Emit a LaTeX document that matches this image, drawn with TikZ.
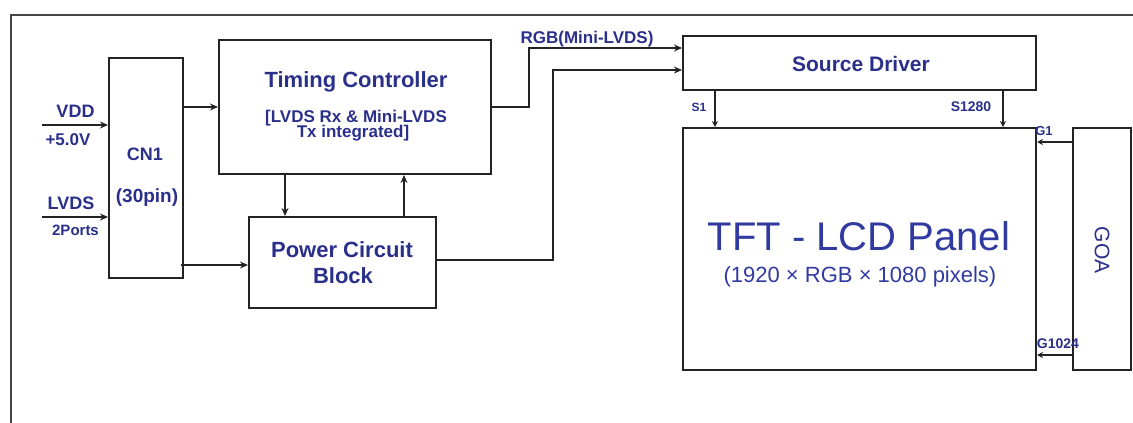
\documentclass[tikz,border=0pt]{standalone}
\usepackage{fontspec}
\setmainfont{Liberation Sans}
\usetikzlibrary{arrows.meta}
\definecolor{navy}{RGB}{42,48,138}
\definecolor{tftblue}{RGB}{48,58,160}
\definecolor{framegray}{RGB}{70,70,70}
\definecolor{ink}{RGB}{35,35,35}
\begin{document}
\begin{tikzpicture}[x=1pt,y=-1pt,
  box/.style={draw=ink,line width=2pt,inner sep=0pt,fill=none},
  lbl/.style={inner sep=0pt,anchor=base,text=navy,font=\bfseries\fontsize{#1}{#1}\selectfont},
  rlbl/.style={inner sep=0pt,anchor=base,text=tftblue,font=\fontsize{#1}{#1}\selectfont},
  arr/.style={draw=ink,line width=2pt,-{Stealth[length=8pt,width=7pt]}},
  sarr/.style={draw=ink,line width=1.6pt,-{Stealth[length=6pt,width=6pt]}},
]
\useasboundingbox (0,0) rectangle (1133,423);
\draw[framegray,line width=2pt] (11,423) -- (11,15) -- (1133,15);

% boxes
\node[box,minimum width=74pt,minimum height=220pt] (cn1) at (146,168) {};
\node[box,minimum width=272pt,minimum height=134pt] (tc) at (355,107) {};
\node[box,minimum width=187pt,minimum height=91pt] (pcb) at (342.5,262.5) {};
\node[box,minimum width=353pt,minimum height=54pt] (sd) at (859.5,63) {};
\node[box,minimum width=353pt,minimum height=242pt] (panel) at (859.5,249) {};
\node[box,minimum width=58pt,minimum height=242pt] (goa) at (1102,249) {};

% texts
\node[lbl=18] (tvdd) at (75.5,117) {VDD};
\node[lbl=17] (tv5) at (68,145) {+5.0V};
\node[lbl=18] (tlvds) at (71,209) {LVDS};
\node[lbl=15] (tports) at (75.5,235) {2Ports};
\node[lbl=18] (tcn1) at (145,160) {CN1};
\node[lbl=19] (tpin) at (147,202) {(30pin)};
\node[lbl=22] (ttc) at (356,87) {Timing Controller};
\node[lbl=17] (ttc1) at (356,122) {[LVDS Rx \& Mini-LVDS};
\node[lbl=17] (ttc2) at (353,137) {Tx integrated]};
\node[lbl=22] (tpcb1) at (342,257) {Power Circuit};
\node[lbl=22] (tpcb2) at (343,283) {Block};
\node[lbl=17] (trgb) at (587,43) {RGB(Mini-LVDS)};
\node[lbl=21] (tsd) at (861,71) {Source Driver};
\node[lbl=12] (ts1) at (699,111) {S1};
\node[lbl=14] (ts1280) at (971,111) {S1280};
\node[lbl=13] (tg1) at (1044,135) {G1};
\node[lbl=14] (tg1024) at (1058,348) {G1024};
\node[rlbl=40] (ttft) at (859,250) {TFT - LCD Panel};
\node[rlbl=22] (tpix) at (860,282) {(1920 × RGB × 1080 pixels)};
\node[inner sep=0pt,text=navy,font=\fontsize{21}{21}\selectfont,rotate=-90] (tgoa) at (1102,250) {GOA};

% connectors
\coordinate (vddin) at (42,125);
\coordinate (lvdsin) at (42,217);
\draw[arr] (vddin) -- (cn1.west |- vddin);
\draw[arr] (lvdsin) -- (cn1.west |- lvdsin);
\draw[arr] (cn1.east |- tc.west) -- (tc.west);
\draw[arr] ([xshift=-3pt,yshift=-2.5pt]cn1.east |- pcb.west) -- ([yshift=-2.5pt]pcb.west);
\draw[arr] ([xshift=-70pt]tc.south) -- ([xshift=-70pt]tc.south |- pcb.north);
\draw[arr] ([xshift=61.5pt]pcb.north) -- ([xshift=61.5pt]pcb.north |- tc.south);
\draw[arr] (tc.east) -- ++(37,0) |- ([yshift=15pt]sd.west);
\draw[arr] ([yshift=2.5pt]pcb.east) -- ++(116,0) |- ([yshift=-7pt]sd.west);
\draw[sarr] ([xshift=-144.5pt]sd.south) -- ([xshift=-144.5pt]sd.south |- panel.north);
\draw[sarr] ([xshift=143.5pt]sd.south) -- ([xshift=143.5pt]sd.south |- panel.north);
\draw[sarr] ([yshift=107pt]goa.west) -- ([yshift=107pt]panel.east);
\draw[sarr] ([yshift=-106pt]goa.west) -- ([yshift=-106pt]panel.east);
\end{tikzpicture}
\end{document}
